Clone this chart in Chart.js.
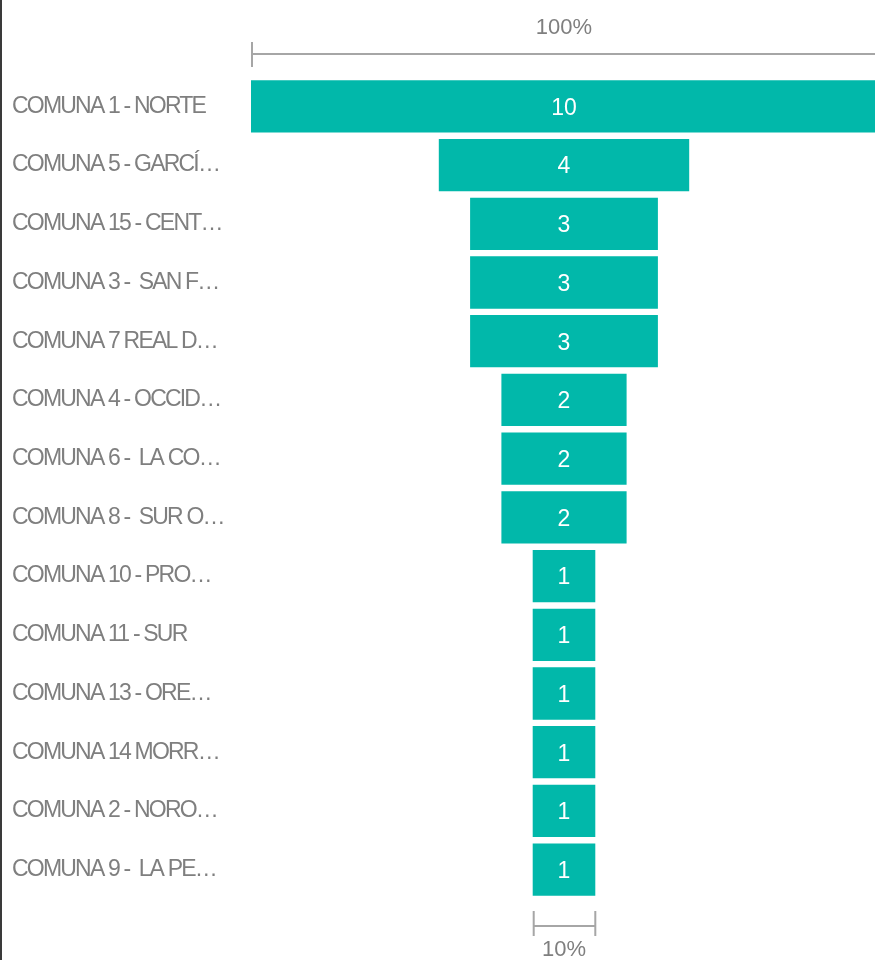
<!DOCTYPE html>
<html>
<head>
<meta charset="utf-8">
<script src="https://cdn.jsdelivr.net/npm/chart.js@4.4.1/dist/chart.umd.min.js"></script>
<style>
  html, body { margin: 0; padding: 0; background: #fff; overflow: hidden; }
  #frame { width: 875px; height: 960px; overflow: hidden; }
  #wrap { position: relative; width: 877px; height: 960px; }
</style>
</head>
<body>
<div id="frame"><div id="wrap"><canvas id="funnel"></canvas></div></div>
<script>
// Funnel data
const categories = [
    'COMUNA 1 - NORTE',
    'COMUNA 5 - GARCÍ…',
    'COMUNA 15 - CENT…',
    'COMUNA 3 -  SAN F…',
    'COMUNA 7 REAL D…',
    'COMUNA 4 - OCCID…',
    'COMUNA 6 -  LA CO…',
    'COMUNA 8 -  SUR O…',
    'COMUNA 10 - PRO…',
    'COMUNA 11 - SUR',
    'COMUNA 13 - ORE…',
    'COMUNA 14 MORR…',
    'COMUNA 2 - NORO…',
    'COMUNA 9 -  LA PE…'
];
const counts = [10, 4, 3, 3, 3, 2, 2, 2, 1, 1, 1, 1, 1, 1];

const maxCount = Math.max(...counts);
const minCount = counts[counts.length - 1];

const teal = '#01B8AA';
const gray = '#7f7f7f';
const lineGray = '#a6a6a6';

// labels get the condensed look, values don't
const spacingPlugin = {
    id: 'spacing',
    beforeDraw(chart) {
        chart.ctx.letterSpacing = '-1.8px';
    },
    beforeDatasetsDraw(chart) {
        chart.ctx.letterSpacing = '0px';
    },
    afterDraw(chart) {
        const ctx = chart.ctx;
        const x = chart.scales.x;
        const area = chart.chartArea;
        const meta = chart.getDatasetMeta(0);
        ctx.save();
        ctx.letterSpacing = '0px';

        // value labels in the bars
        ctx.fillStyle = '#ffffff';
        ctx.font = '23px "Liberation Sans", Arial, sans-serif';
        ctx.textAlign = 'center';
        ctx.textBaseline = 'middle';
        meta.data.forEach((bar, i) => {
            ctx.fillText(String(counts[i]), x.getPixelForValue(0), bar.y + 2);
        });

        // top bracket: 100%
        ctx.strokeStyle = lineGray;
        ctx.lineWidth = 2;
        const tl = x.getPixelForValue(-maxCount / 2);
        const tr = x.getPixelForValue(maxCount / 2);
        const ty = area.top - 23;
        ctx.beginPath();
        ctx.moveTo(tl, ty); ctx.lineTo(tr, ty);
        ctx.moveTo(tl + 1, ty - 12); ctx.lineTo(tl + 1, ty + 13);
        ctx.moveTo(tr + 1, ty - 12); ctx.lineTo(tr + 1, ty + 13);
        ctx.stroke();
        ctx.fillStyle = gray;
        ctx.font = '22px "Liberation Sans", Arial, sans-serif';
        ctx.fillText('100%', (tl + tr) / 2, area.top - 49);

        // bottom bracket: share of the smallest stage
        const bl = x.getPixelForValue(-minCount / 2);
        const br = x.getPixelForValue(minCount / 2);
        const by = area.bottom + 27;
        ctx.beginPath();
        ctx.moveTo(bl, by); ctx.lineTo(br, by);
        ctx.moveTo(bl + 1, by - 15); ctx.lineTo(bl + 1, by + 10);
        ctx.moveTo(br, by - 15); ctx.lineTo(br, by + 10);
        ctx.stroke();
        ctx.fillText(Math.round(minCount / maxCount * 100) + '%', (bl + br) / 2, area.bottom + 51);

        // left frame edge
        ctx.fillStyle = '#3a3a3a';
        ctx.fillRect(0, 0, 2, chart.height);
        ctx.restore();
    }
};

const ctx = document.getElementById('funnel').getContext('2d');
const chart = new Chart(ctx, {
    type: 'bar',
    data: {
        labels: categories,
        datasets: [{
            data: counts.map(v => [-v / 2, v / 2]),
            backgroundColor: teal,
            borderWidth: 0,
            categoryPercentage: 1,
            barPercentage: 0.89
        }]
    },
    options: {
        indexAxis: 'y',
        responsive: true,
        maintainAspectRatio: false,
        animation: false,
        layout: {
            padding: { left: 12, right: 0, top: 77, bottom: 61 }
        },
        scales: {
            x: {
                display: false,
                min: -maxCount / 2,
                max: maxCount / 2
            },
            y: {
                grid: { display: false },
                border: { display: false },
                ticks: {
                    crossAlign: 'far',
                    color: gray,
                    padding: 0,
                    autoSkip: false,
                    font: { family: '"Liberation Sans", Arial, sans-serif', size: 23 }
                },
                afterFit(scale) {
                    scale.width = 239;
                }
            }
        },
        plugins: {
            legend: { display: false },
            tooltip: { enabled: false }
        }
    },
    plugins: [spacingPlugin]
});
</script>
</body>
</html>
